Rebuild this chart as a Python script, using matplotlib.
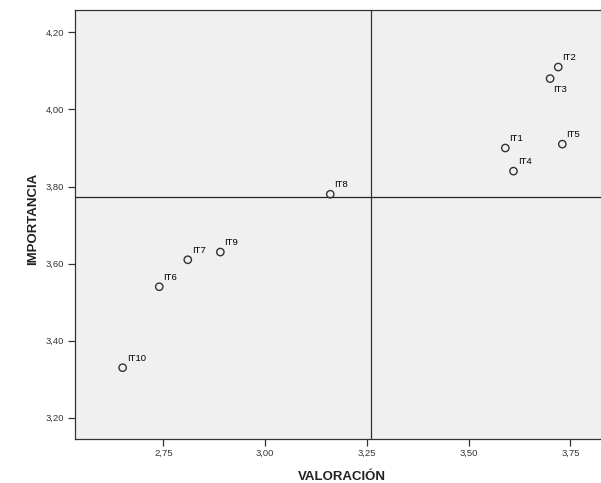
import numpy as np
import matplotlib
matplotlib.use('Agg')
import matplotlib.pyplot as plt
from matplotlib.ticker import FuncFormatter

items = ['IT1', 'IT2', 'IT3', 'IT4', 'IT5', 'IT6', 'IT7', 'IT8', 'IT9', 'IT10']
valoracion = [3.59, 3.72, 3.70, 3.61, 3.73, 2.74, 2.81, 3.16, 2.89, 2.65]
importancia = [3.90, 4.11, 4.08, 3.84, 3.91, 3.54, 3.61, 3.78, 3.63, 3.33]

x_ticks = [2.75, 3.00, 3.25, 3.50, 3.75]
y_ticks = [3.20, 3.40, 3.60, 3.80, 4.00, 4.20]

plt.rcParams['font.family'] = ['Liberation Sans', 'DejaVu Sans']

fig = plt.figure(figsize=(6.01, 4.83), dpi=100)
ax = fig.add_axes([75 / 601, 44 / 483, 526 / 601, 429 / 483])
ax.set_facecolor('#f0f0f0')

# reference lines at the means
ax.axvline(np.mean(valoracion), color='#333333', lw=0.9, zorder=1)
ax.axhline(np.mean(importancia), color='#222222', lw=0.9, zorder=1)

ax.scatter(valoracion, importancia, s=28, facecolors='none',
           edgecolors='#333333', linewidths=1.0, zorder=3)

for name, x, y in zip(items, valoracion, importancia):
    if name == 'IT3':
        ax.annotate(name, (x, y), xytext=(2.5, -4.5), textcoords='offset points',
                    ha='left', va='top', fontsize=6.8, color='black')
    else:
        ax.annotate(name, (x, y), xytext=(3, 5), textcoords='offset points',
                    ha='left', va='baseline', fontsize=6.8, color='black')

ax.set_xlim(2.533, 3.825)
ax.set_ylim(3.145, 4.258)
ax.set_xticks(x_ticks)
ax.set_yticks(y_ticks)
comma = FuncFormatter(lambda v, p: f'{v:.2f}'.replace('.', ','))
ax.xaxis.set_major_formatter(comma)
ax.yaxis.set_major_formatter(comma)
ax.tick_params(axis='both', labelsize=6.8, labelcolor='#333333', color='#333333',
               length=5, width=0.9)
ax.tick_params(axis='x', pad=2)
ax.tick_params(axis='y', pad=3)

for side in ['left', 'bottom', 'top']:
    ax.spines[side].set_color('#333333')
    ax.spines[side].set_linewidth(0.9)
ax.spines['right'].set_visible(False)

ax.set_xlabel('VALORACIÓN', fontsize=9.5, fontweight='bold', color='#222222', va='baseline')
ax.set_ylabel('IMPORTANCIA', fontsize=9.5, fontweight='bold', color='#222222', va='baseline')
ax.xaxis.set_label_coords(0.5076, -0.0956)
ax.yaxis.set_label_coords(-0.074, 0.513)

fig.savefig('out.png', dpi=100)
